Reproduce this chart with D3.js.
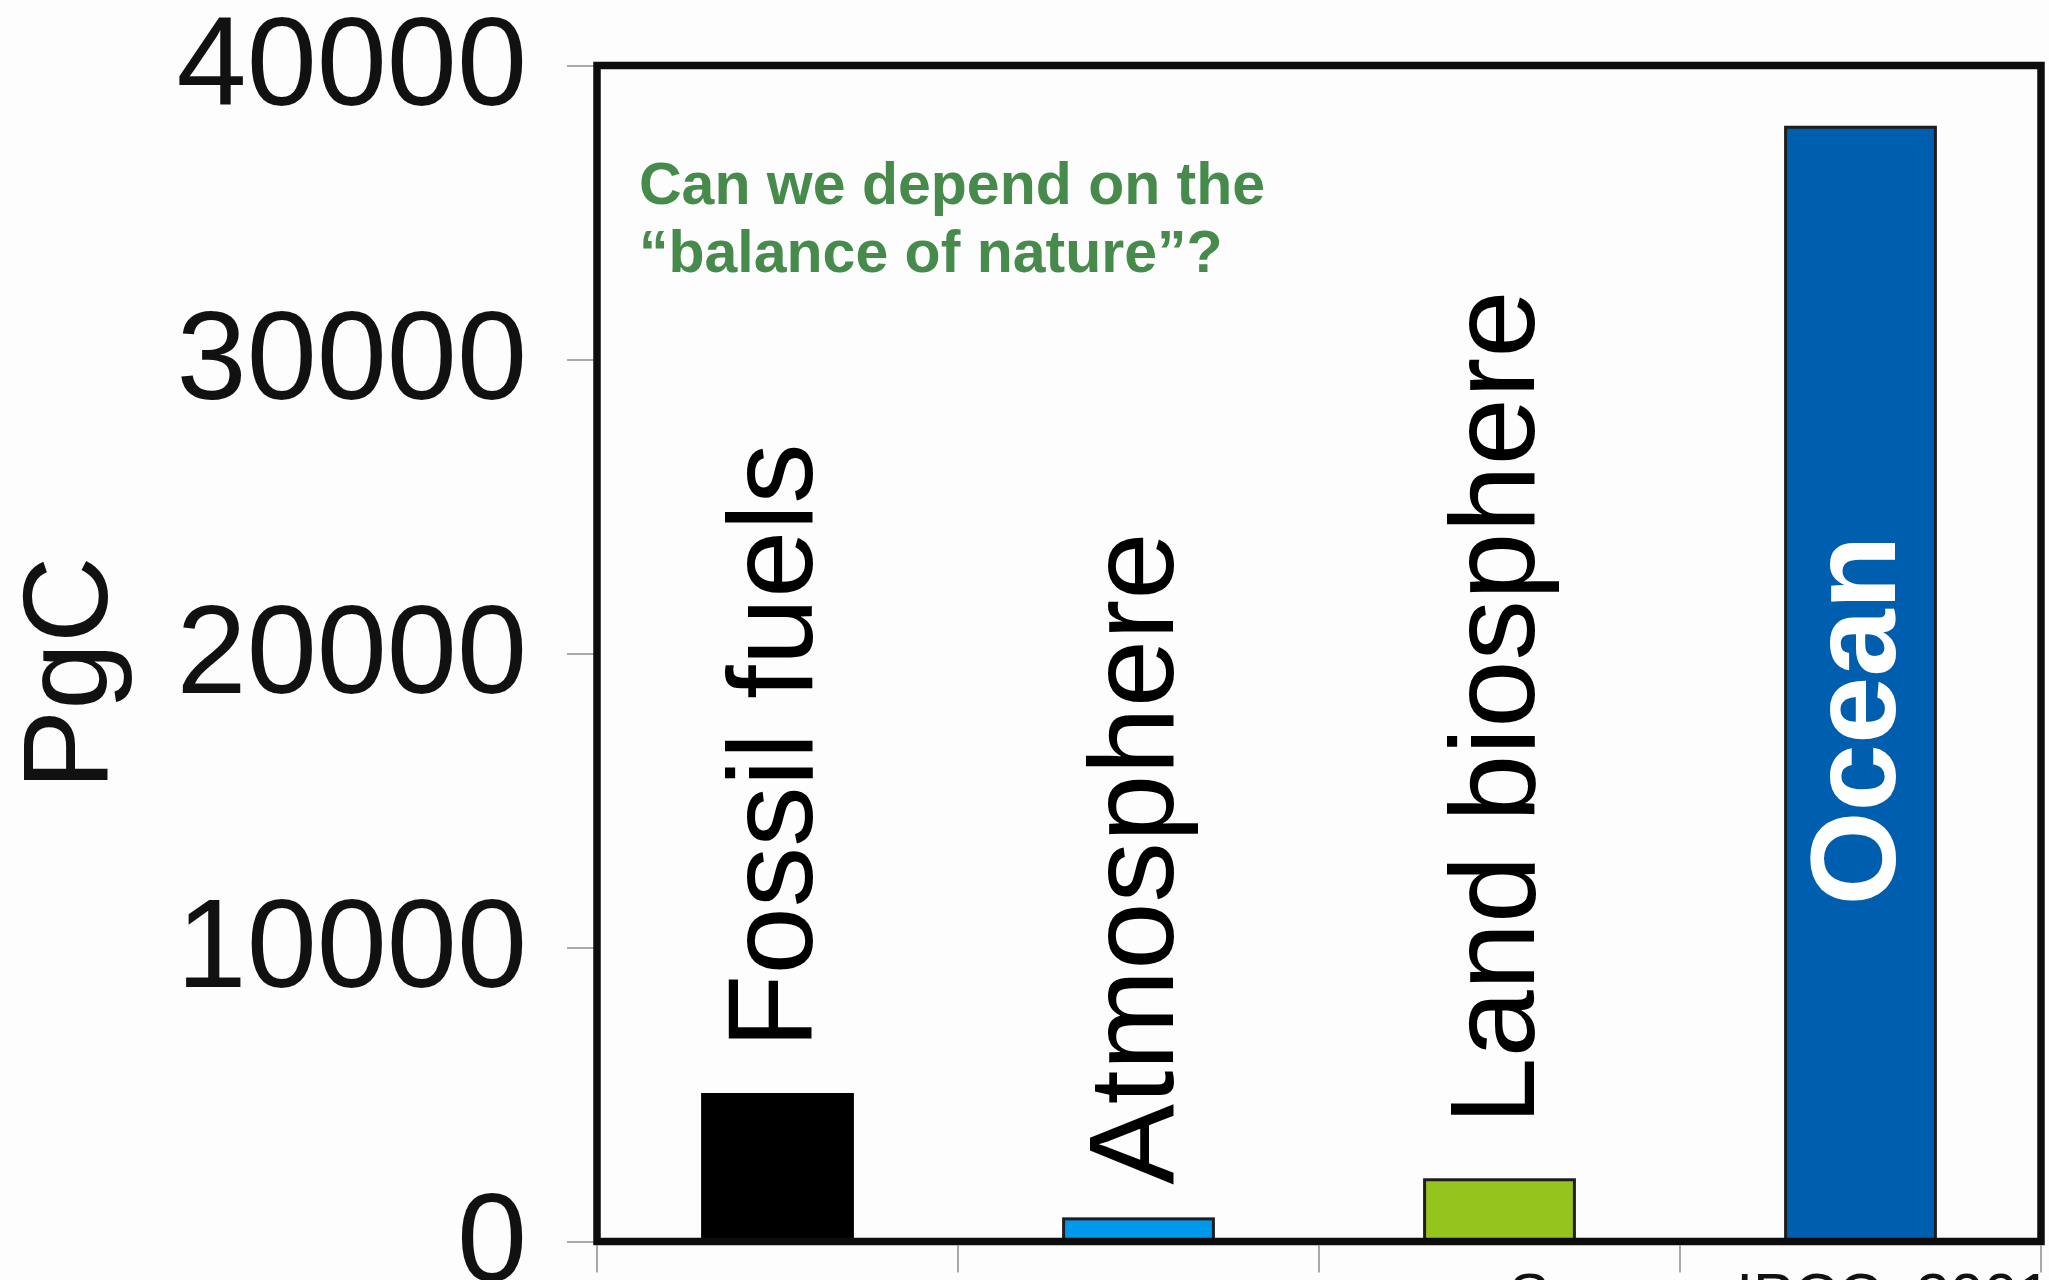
<!DOCTYPE html>
<html>
<head>
<meta charset="utf-8">
<script src="https://cdn.jsdelivr.net/npm/d3@7"></script>
<style>
  html, body { margin: 0; padding: 0; background: #fdfdfd; }
  svg { display: block; }
  text { font-family: "Liberation Sans", Arial, Helvetica, sans-serif; }
</style>
</head>
<body>
<script>
// Carbon reservoirs (PgC)
const categories = ["Fossil fuels", "Atmosphere", "Land biosphere", "Ocean"];
const values = [5000, 770, 2100, 37900];
const yTicks = [0, 10000, 20000, 30000, 40000];
const yTitle = "PgC";
const noteLines = ["Can we depend on the", "\u201Cbalance of nature\u201D?"];
const sourceText = "Source: IPCC, 2001";

const W = 2049, H = 1280;
const fills = ["#000000", "#0098ea", "#96c41e", "#005eae"];

const svg = d3.select("body").append("svg")
  .attr("width", W).attr("height", H);

svg.append("rect").attr("width", W).attr("height", H).attr("fill", "#fdfdfd");

const plot = { left: 597, right: 2041, top: 65.5, bottom: 1241.5 };

const x = d3.scaleBand()
  .domain(categories)
  .range([plot.left, plot.right])
  .paddingInner(0.585)
  .paddingOuter(0.2925);

const y = d3.scaleLinear()
  .domain([0, 40000])
  .range([plot.bottom, plot.top]);

// y axis: ticks outside the frame, large labels
const yAxis = svg.append("g")
  .attr("transform", `translate(${plot.left},0)`)
  .call(d3.axisLeft(y).tickValues(yTicks).tickSize(30).tickPadding(40).tickFormat(d3.format("d")));
yAxis.select(".domain").remove();
yAxis.selectAll(".tick line").attr("stroke", "#8c8c8c").attr("stroke-width", 1.5);
yAxis.selectAll(".tick text")
  .attr("font-size", 126)
  .attr("fill", "#111")
  .attr("dy", "0.31em")
  .style("font-family", "'Liberation Sans', Arial, sans-serif");

// x axis ticks at the category boundaries
const step = x.step();
const bounds = d3.range(categories.length + 1).map(i => plot.left + i * step);
svg.append("g").selectAll("line")
  .data(bounds)
  .join("line")
  .attr("x1", d => d).attr("x2", d => d)
  .attr("y1", plot.bottom + 4).attr("y2", plot.bottom + 31)
  .attr("stroke", "#8c8c8c").attr("stroke-width", 1.5);

// bars
svg.append("g").selectAll("rect")
  .data(categories)
  .join("rect")
  .attr("x", d => x(d))
  .attr("width", x.bandwidth())
  .attr("y", (d, i) => y(values[i]))
  .attr("height", (d, i) => y(0) - y(values[i]))
  .attr("fill", (d, i) => fills[i])
  .attr("stroke", (d, i) => i === 0 ? "#000" : "#1e1e1e")
  .attr("stroke-width", 3);

// plot frame
svg.append("rect")
  .attr("x", plot.left).attr("y", plot.top)
  .attr("width", plot.right - plot.left)
  .attr("height", plot.bottom - plot.top)
  .attr("fill", "none")
  .attr("stroke", "#0d0d0d")
  .attr("stroke-width", 7.5);

// vertical category labels
const labelLift = [46, 34, 55];
svg.append("g").selectAll("text")
  .data(categories)
  .join("text")
  .attr("transform", (d, i) => {
    const cx = x(d) + x.bandwidth() / 2 + 34;
    const cy = i < 3 ? y(values[i]) - labelLift[i] : y(0) - 336;
    return `translate(${cx},${cy}) rotate(-90)`;
  })
  .attr("text-anchor", "start")
  .attr("font-size", 121)
  .attr("font-weight", (d, i) => i === 3 ? "bold" : "normal")
  .attr("fill", (d, i) => i === 3 ? "#ffffff" : "#000")
  .text(d => d);

// y axis title
svg.append("text")
  .attr("transform", `translate(107,673) rotate(-90)`)
  .attr("text-anchor", "middle")
  .attr("font-size", 120)
  .attr("fill", "#111")
  .text(yTitle);

// annotation
svg.append("g").selectAll("text")
  .data(noteLines)
  .join("text")
  .attr("x", 639)
  .attr("y", (d, i) => 204 + i * 68)
  .attr("font-size", 59)
  .attr("font-weight", "bold")
  .attr("fill", "#478b4c")
  .text(d => d);

// source line along the bottom edge
svg.append("text")
  .attr("x", 1509)
  .attr("y", 1316)
  .attr("font-size", 61)
  .attr("fill", "#111")
  .text(sourceText);
</script>
</body>
</html>
